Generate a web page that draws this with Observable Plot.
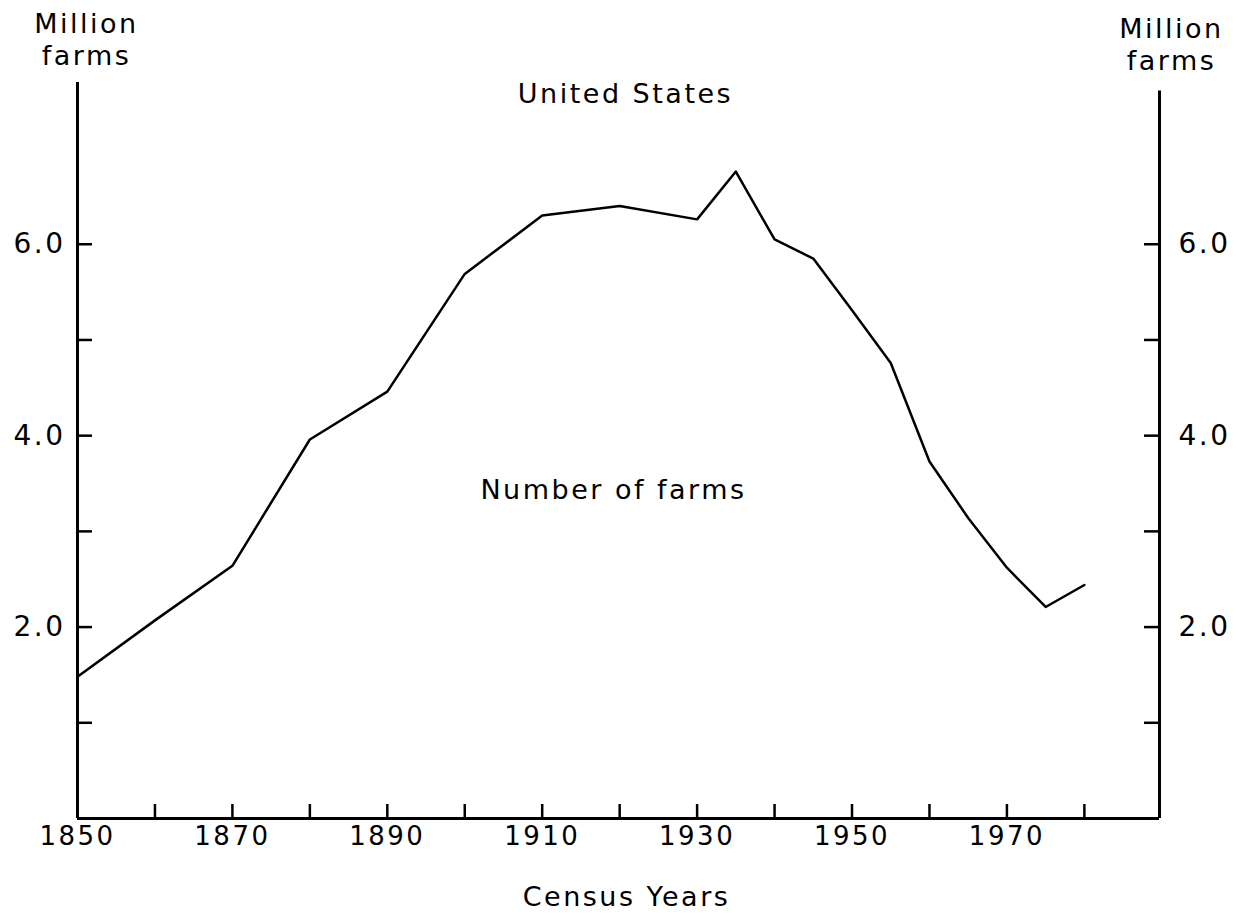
<!DOCTYPE html>
<html>
<head>
<meta charset="utf-8">
<script src="https://cdn.jsdelivr.net/npm/d3@7"></script>
<script src="https://cdn.jsdelivr.net/npm/@observablehq/plot@0.6"></script>
<style>
  html, body { margin: 0; padding: 0; background: #fff; }
  svg text { letter-spacing: 2.5px; }
</style>
</head>
<body>
<div id="chart"></div>
<script>
// Census years and number of farms (million)
const years = [1850, 1860, 1870, 1880, 1890, 1900, 1910, 1920, 1930, 1935, 1940, 1945, 1950, 1955, 1960, 1965, 1970, 1975, 1980];
const farms = [1.48, 2.07, 2.64, 3.96, 4.46, 5.69, 6.30, 6.40, 6.26, 6.76, 6.05, 5.85, 5.31, 4.76, 3.73, 3.14, 2.62, 2.21, 2.44];

const xTickMarks = [1850, 1860, 1870, 1880, 1890, 1900, 1910, 1920, 1930, 1940, 1950, 1960, 1970, 1980];
const xTickLabels = [1850, 1870, 1890, 1910, 1930, 1950, 1970];
const yTickMarks = [1, 2, 3, 4, 5, 6];
const yTickLabels = [2, 4, 6];

const xDomain = [1850, 1989.7];
const yDomain = [0, 7.69];

const W = 1239, H = 915;
const mL = 77, mR = 80, mT = 82, mB = 97;
const pxPerY = (H - mT - mB) / (yDomain[1] - yDomain[0]);
const pxPerX = (W - mL - mR) / (xDomain[1] - xDomain[0]);
const xTickLen = 14 / pxPerY;   // vertical tick length in y units
const yTickLen = 15 / pxPerX;   // horizontal tick length in x units

const data = years.map((y, i) => ({year: y, farms: farms[i]}));
const font = "DejaVu Sans, Liberation Sans, sans-serif";

const chart = Plot.plot({
  width: W, height: H,
  marginLeft: mL, marginRight: mR, marginTop: mT, marginBottom: mB,
  x: {domain: xDomain},
  y: {domain: yDomain},
  style: {fontFamily: font, background: "white", color: "black", overflow: "visible"},
  marks: [
    // frame: left, right, bottom axis lines
    Plot.ruleX([xDomain[0]], {y1: 0, y2: yDomain[1], stroke: "black", strokeWidth: 3}),
    Plot.ruleX([xDomain[1]], {y1: 0, y2: yDomain[1] - 0.09, stroke: "black", strokeWidth: 3}),
    Plot.ruleY([0], {stroke: "black", strokeWidth: 3}),
    // inward tick marks
    Plot.ruleX(xTickMarks, {x: d => d, y1: 0, y2: xTickLen, stroke: "black", strokeWidth: 2.5}),
    Plot.ruleY(yTickMarks, {y: d => d, x1: xDomain[0], x2: xDomain[0] + yTickLen, stroke: "black", strokeWidth: 2.5}),
    Plot.ruleY(yTickMarks, {y: d => d, x1: xDomain[1], x2: xDomain[1] - yTickLen, stroke: "black", strokeWidth: 2.5}),
    // tick labels
    Plot.axisX({ticks: xTickLabels, tickSize: 0, tickPadding: 8, tickFormat: d => String(d), fontSize: 26, label: null}),
    Plot.axisY({anchor: "left", ticks: yTickLabels, tickSize: 0, tickPadding: 12, tickFormat: d => d.toFixed(1), fontSize: 28, label: null}),
    Plot.axisY({anchor: "right", ticks: yTickLabels, tickSize: 0, tickPadding: 19, tickFormat: d => d.toFixed(1), fontSize: 28, label: null}),
    // the series
    Plot.line(data, {x: "year", y: "farms", stroke: "black", strokeWidth: 2.5}),
    // annotations
    Plot.text(["Million\nfarms"], {frameAnchor: "top-left", dx: 9, dy: -44, lineAnchor: "middle", lineHeight: 1.185, fontSize: 27, textAnchor: "middle"}),
    Plot.text(["Million\nfarms"], {frameAnchor: "top-right", dx: 12, dy: -39, lineAnchor: "middle", lineHeight: 1.185, fontSize: 27, textAnchor: "middle"}),
    Plot.text(["United States"], {frameAnchor: "top", dx: 7, dy: 12, lineAnchor: "middle", fontSize: 27}),
    Plot.text(["Number of farms"], {frameAnchor: "middle", dx: -5, dy: 40, lineAnchor: "middle", fontSize: 27}),
    Plot.text(["Census Years"], {frameAnchor: "bottom", dx: 8, dy: 79, lineAnchor: "middle", fontSize: 27})
  ]
});
document.getElementById("chart").appendChild(chart);
</script>
</body>
</html>
